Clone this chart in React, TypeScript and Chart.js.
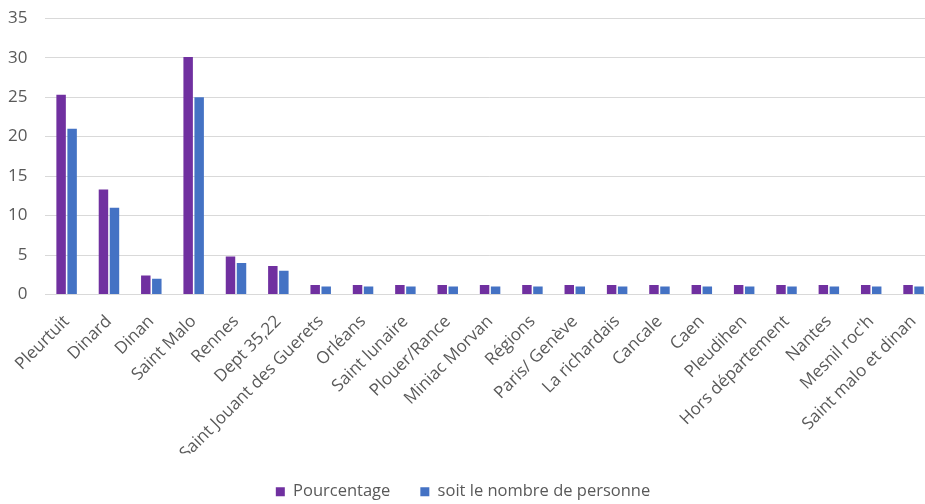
import React, { useEffect, useRef } from "react";
import { Chart, registerables } from "chart.js";

Chart.register(...registerables);

const categories = [
  "Pleurtuit", "Dinard", "Dinan", "Saint Malo", "Rennes", "Dept 35,22",
  "Saint Jouant des Guerets", "Orléans", "Saint lunaire", "Plouer/Rance",
  "Miniac Morvan", "Régions", "Paris/ Genève", "La richardais", "Cancale",
  "Caen", "Pleudihen", "Hors département", "Nantes", "Mesnil roc'h",
  "Saint malo et dinan",
];

const pourcentage = [
  25.3, 13.3, 2.4, 30.1, 4.8, 3.6, 1.2, 1.2, 1.2, 1.2, 1.2, 1.2, 1.2, 1.2,
  1.2, 1.2, 1.2, 1.2, 1.2, 1.2, 1.2,
];

const nombre = [
  21, 11, 2, 25, 4, 3, 1, 1, 1, 1, 1, 1, 1, 1, 1, 1, 1, 1, 1, 1, 1,
];

const seriesNames = ["Pourcentage", "soit le nombre de personne"];
const yTicks = { min: 0, max: 35, step: 5 };

export default function App() {
  const ref = useRef<HTMLCanvasElement | null>(null);

  useEffect(() => {
    document.body.style.margin = "0";
    if (!ref.current) return;
    const font = "'Open Sans', 'Liberation Sans', sans-serif";
    const chart = new Chart(ref.current, {
      type: "bar",
      data: {
        labels: categories,
        datasets: [
          {
            label: seriesNames[0],
            data: pourcentage,
            backgroundColor: "#7030A0",
            categoryPercentage: 0.52,
            barPercentage: 0.86,
          },
          {
            label: seriesNames[1],
            data: nombre,
            backgroundColor: "#4472C4",
            categoryPercentage: 0.52,
            barPercentage: 0.86,
          },
        ],
      },
      options: {
        animation: false,
        responsive: false,
        maintainAspectRatio: false,
        layout: { padding: { left: 0, right: 1, top: 1, bottom: 0 } },
        plugins: {
          legend: {
            position: "bottom",
            labels: {
              color: "#595959",
              font: { family: font, size: 16.5 },
              boxWidth: 9,
              boxHeight: 9,
              padding: 30,
            },
          },
          tooltip: { enabled: false },
        },
        scales: {
          x: {
            grid: { display: false },
            border: { display: false },
            ticks: {
              color: "#595959",
              font: { family: font, size: 17 },
              maxRotation: 45,
              minRotation: 45,
              autoSkip: false,
              padding: 9,
            },
            afterFit: (scale: any) => {
              scale.height = 159;
            },
          },
          y: {
            min: yTicks.min,
            max: yTicks.max,
            grid: { color: "#d9d9d9", lineWidth: 1, drawTicks: false },
            border: { display: false },
            ticks: {
              stepSize: yTicks.step,
              color: "#595959",
              font: { family: font, size: 17 },
              padding: 18,
            },
          },
        },
      },
    });
    return () => chart.destroy();
  }, []);

  return (
    <div style={{ position: "absolute", left: 0, top: 0, width: 925, height: 504, overflow: "hidden", background: "#fff" }}>
      <canvas
        ref={ref}
        width={947}
        height={520}
        style={{ position: "absolute", left: -10, top: -10, width: 947, height: 520 }}
      />
    </div>
  );
}
